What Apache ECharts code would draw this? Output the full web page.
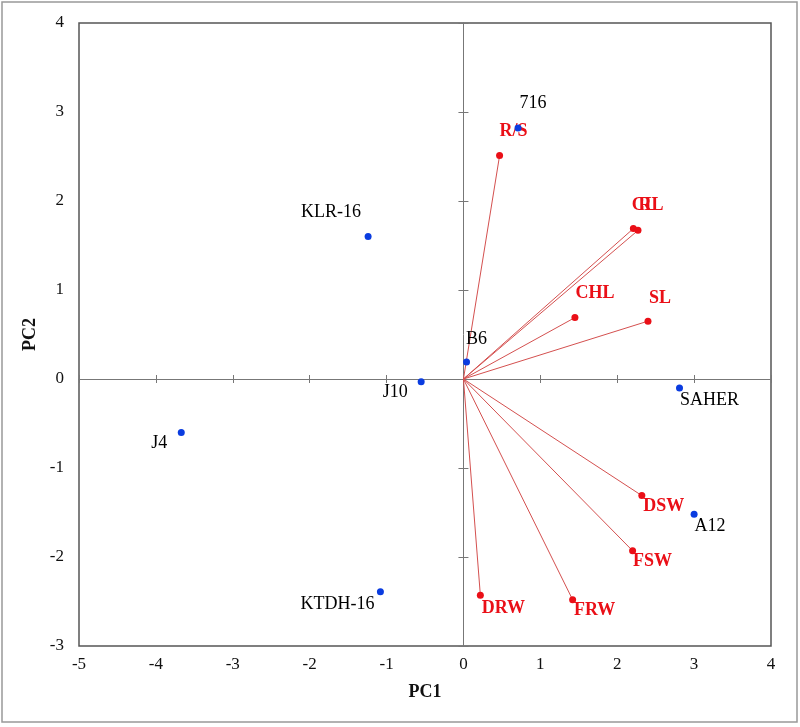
<!DOCTYPE html>
<html><head><meta charset="utf-8">
<script src="https://cdn.jsdelivr.net/npm/echarts@6/dist/echarts.min.js"></script>
<style>html,body{margin:0;padding:0;background:#fff}#c{width:800px;height:727px}</style>
</head><body><div id="c"></div>
<script>
// ---- data ----
const genotypes = ['716', 'KLR-16', 'B6', 'J10', 'J4', 'KTDH-16', 'SAHER', 'A12'];
const genoPC1 = [0.71, -1.24, 0.04, -0.55, -3.67, -1.08, 2.81, 3.00];
const genoPC2 = [2.82, 1.60, 0.19, -0.03, -0.60, -2.39, -0.10, -1.52];
const traits = ['R/S', 'CL', 'RL', 'CHL', 'SL', 'DSW', 'FSW', 'FRW', 'DRW'];
const traitPC1 = [0.47, 2.21, 2.27, 1.45, 2.40, 2.32, 2.20, 1.42, 0.22];
const traitPC2 = [2.51, 1.69, 1.67, 0.69, 0.65, -1.31, -1.93, -2.48, -2.43];
const xRange = [-5, 4];
const yRange = [-3, 4];

// ---- label placement (style) ----
const genoLabelOffset = [[15, -25], [-37, -24], [10, -23], [-26, 11], [-22, 11], [-43, 13], [30, 12], [16, 12]];
const traitLabelOffset = [[14, -24], [11, -23], [13, -25], [20, -24], [12, -23], [22, 11], [20, 11], [22, 11], [23, 13]];

const SERIF = '"Liberation Serif", "Times New Roman", serif';
const chart = echarts.init(document.getElementById('c'), null, {renderer: 'canvas'});

function valueAxis(range, extra) {
  return Object.assign({
    type: 'value', min: range[0], max: range[1], interval: 1,
    splitLine: {show: false}
  }, extra);
}

const xAxes = [
  valueAxis(xRange, {
    position: 'bottom',
    axisLine: {show: false, onZero: false}, axisTick: {show: false},
    axisLabel: {margin: 10, fontFamily: SERIF, fontSize: 17, color: '#111'},
    name: 'PC1', nameLocation: 'middle', nameGap: 37,
    nameTextStyle: {fontFamily: SERIF, fontSize: 18, fontWeight: 'bold', color: '#111'}
  }),
  valueAxis(xRange, {
    position: 'top',
    axisLine: {show: true, onZero: true, onZeroAxisIndex: 0, lineStyle: {color: '#777', width: 1}},
    axisTick: {show: true, inside: false, length: 4, lineStyle: {color: '#777'}},
    axisLabel: {show: false}
  }),
  valueAxis(xRange, {
    position: 'top',
    axisLine: {show: false, onZero: true, onZeroAxisIndex: 0},
    axisTick: {show: true, inside: true, length: 4, lineStyle: {color: '#777'}},
    axisLabel: {show: false}
  })
];
const yAxes = [
  valueAxis(yRange, {
    position: 'left',
    axisLine: {show: false, onZero: false}, axisTick: {show: false},
    axisLabel: {margin: 15, fontFamily: SERIF, fontSize: 17, color: '#111'},
    name: 'PC2', nameLocation: 'middle', nameGap: 37, nameRotate: 90,
    nameTextStyle: {fontFamily: SERIF, fontSize: 18, fontWeight: 'bold', color: '#111'}
  }),
  valueAxis(yRange, {
    position: 'right',
    axisLine: {show: true, onZero: true, onZeroAxisIndex: 0, lineStyle: {color: '#777', width: 1}},
    axisTick: {show: true, inside: false, length: 5, lineStyle: {color: '#777'}},
    axisLabel: {show: false}
  }),
  valueAxis(yRange, {
    position: 'right',
    axisLine: {show: false, onZero: true, onZeroAxisIndex: 0},
    axisTick: {show: true, inside: true, length: 5, lineStyle: {color: '#777'}},
    axisLabel: {show: false}
  })
];

const vectorSeries = traits.map((t, i) => ({
  type: 'line', name: 'vec-' + t, xAxisIndex: 0, yAxisIndex: 0,
  data: [[0, 0], [traitPC1[i], traitPC2[i]]],
  showSymbol: false, symbol: 'none', silent: true, z: 3,
  lineStyle: {color: '#d4504f', width: 1, opacity: 1}
}));

const traitSeries = {
  type: 'scatter', name: 'traits', xAxisIndex: 0, yAxisIndex: 0, z: 5,
  symbolSize: 7, itemStyle: {color: '#ea0f17', opacity: 1},
  data: traits.map((t, i) => ({
    value: [traitPC1[i], traitPC2[i]], name: t,
    label: {show: true, position: 'inside', offset: traitLabelOffset[i], formatter: t,
      fontFamily: SERIF, fontSize: 18, fontWeight: 'bold', color: '#ea0f17'}
  }))
};

const genoSeries = {
  type: 'scatter', name: 'genotypes', xAxisIndex: 0, yAxisIndex: 0, z: 6,
  symbolSize: 7, itemStyle: {color: '#0a3ce0', opacity: 1},
  data: genotypes.map((g, i) => ({
    value: [genoPC1[i], genoPC2[i]], name: g,
    label: {show: true, position: 'inside', offset: genoLabelOffset[i], formatter: g,
      fontFamily: SERIF, fontSize: 18, color: '#000'}
  }))
};

chart.setOption({
  animation: false,
  backgroundColor: '#fff',
  grid: {left: 79, right: 29, top: 23, bottom: 81, show: true, borderColor: '#555', borderWidth: 1.5,
    backgroundColor: 'transparent', containLabel: false, outerBoundsMode: 'none'},
  xAxis: xAxes,
  yAxis: yAxes,
  series: [...vectorSeries, traitSeries, genoSeries],
  graphic: [{
    type: 'rect', silent: true, z: 100,
    shape: {x: 2, y: 2, width: 795, height: 720},
    style: {fill: 'none', stroke: '#999', lineWidth: 1.5}
  }]
});
</script>
</body></html>
